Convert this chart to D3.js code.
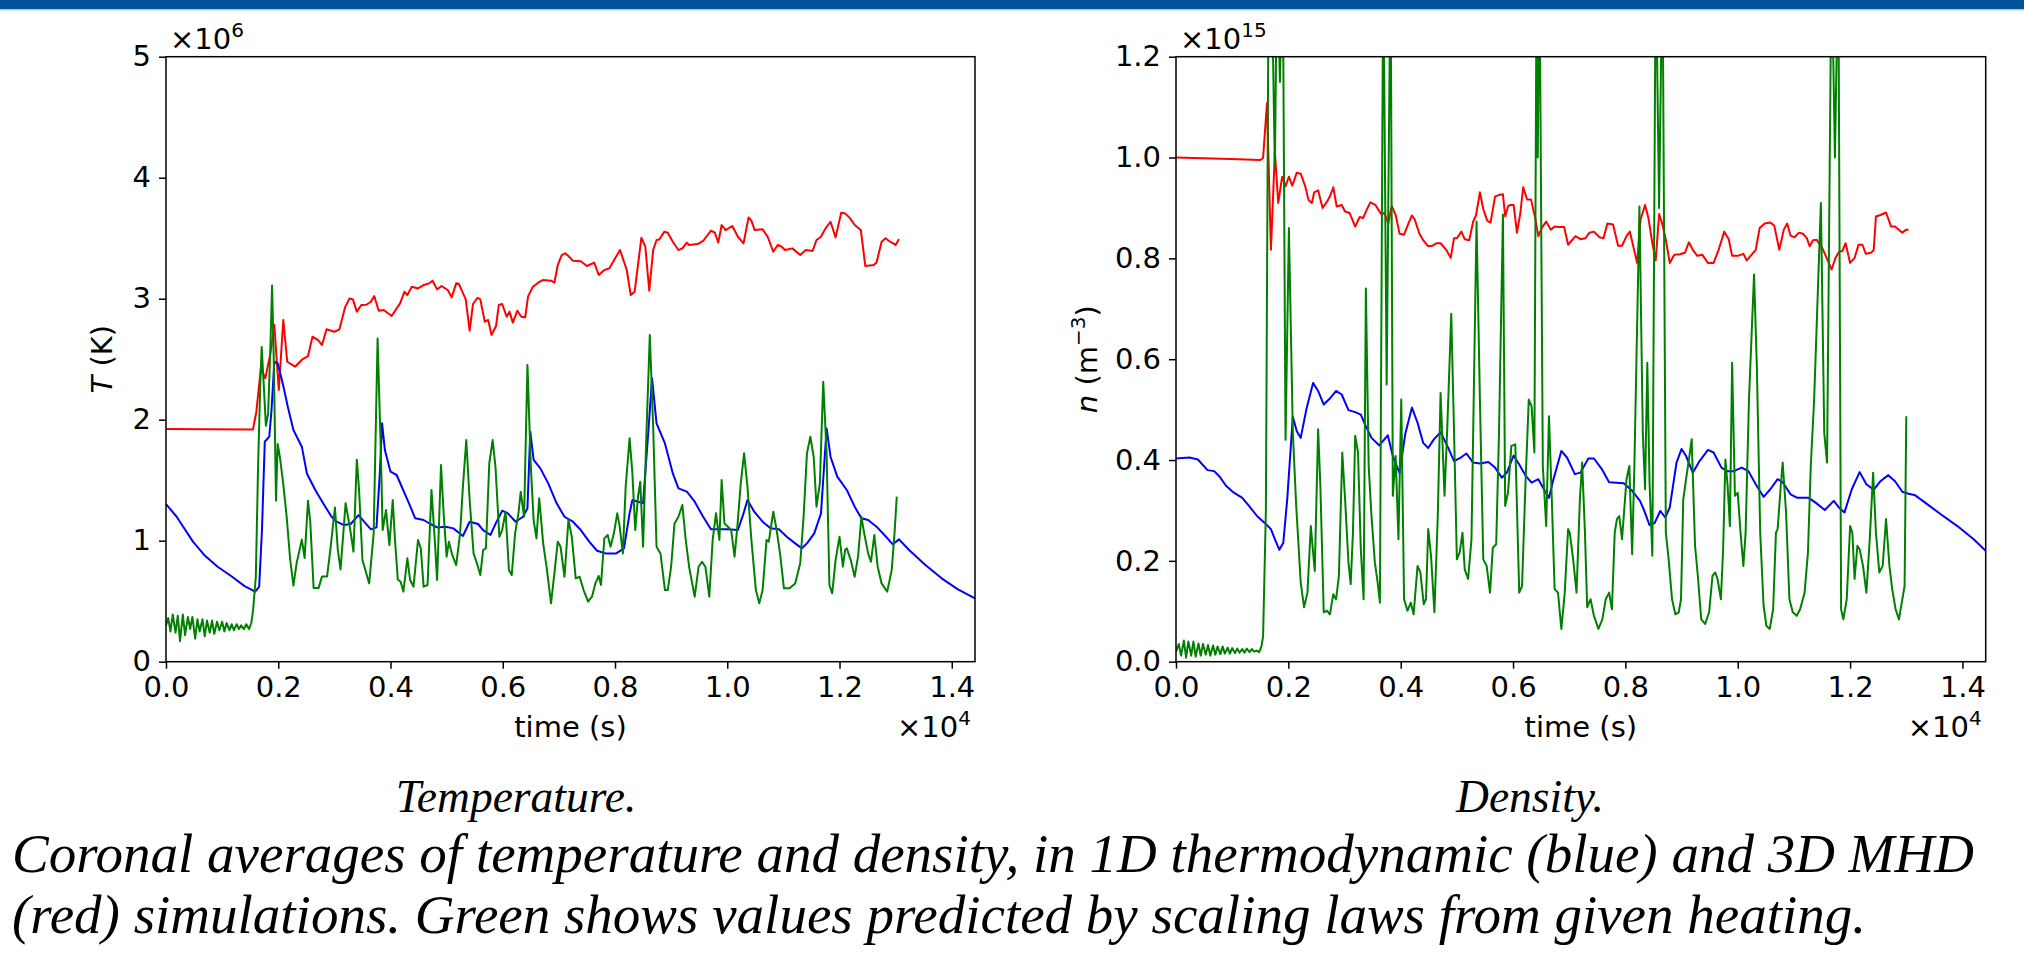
<!DOCTYPE html>
<html>
<head>
<meta charset="utf-8">
<script src="https://cdn.jsdelivr.net/npm/d3@7"></script>
<style>
  body { margin: 0; background: #fff; }
  svg { display: block; }
  .caption { font-family: 'Liberation Serif', 'Times New Roman', serif; font-style: italic; }
</style>
</head>
<body>
<script>
// units: time in 1e4 s, T in 1e6 K, n in 1e15 m^-3 (same as the axis offsets)
const xTicks = [0, 0.2, 0.4, 0.6, 0.8, 1.0, 1.2, 1.4];
const tempTicks = [0, 1, 2, 3, 4, 5];
const densTicks = [0, 0.2, 0.4, 0.6, 0.8, 1.0, 1.2];

// temperature, 1D thermodynamic (blue)
const tempBlue = [[0,1.303],[0.019,1.198],[0.048,0.992],[0.068,0.882],[0.092,0.785],[0.116,0.708],[0.140,0.625],[0.159,0.579],[0.166,0.620],[0.171,1.088],[0.176,1.818],[0.184,1.860],[0.188,2.080],[0.193,2.479],[0.199,2.466],[0.208,2.300],[0.217,2.107],[0.227,1.915],[0.242,1.777],[0.251,1.556],[0.266,1.419],[0.280,1.309],[0.295,1.198],[0.304,1.157],[0.317,1.129],[0.329,1.138],[0.343,1.212],[0.353,1.157],[0.365,1.094],[0.375,1.110],[0.381,1.556],[0.385,1.970],[0.390,1.749],[0.400,1.570],[0.411,1.543],[0.420,1.446],[0.433,1.309],[0.444,1.185],[0.459,1.171],[0.471,1.138],[0.483,1.110],[0.498,1.116],[0.512,1.102],[0.529,1.039],[0.541,1.157],[0.556,1.138],[0.565,1.088],[0.578,1.047],[0.589,1.157],[0.599,1.248],[0.609,1.226],[0.623,1.157],[0.636,1.198],[0.644,1.267],[0.649,1.901],[0.655,1.667],[0.667,1.598],[0.681,1.474],[0.696,1.309],[0.710,1.198],[0.725,1.157],[0.739,1.088],[0.754,0.992],[0.768,0.917],[0.783,0.895],[0.802,0.895],[0.816,0.937],[0.826,1.226],[0.831,1.336],[0.841,1.322],[0.850,1.309],[0.860,1.942],[0.866,2.342],[0.874,1.970],[0.889,1.804],[0.903,1.556],[0.913,1.433],[0.928,1.405],[0.942,1.322],[0.957,1.198],[0.971,1.094],[0.986,1.094],[1.000,1.094],[1.019,1.088],[1.029,1.226],[1.036,1.336],[1.048,1.240],[1.063,1.157],[1.077,1.102],[1.092,1.094],[1.106,1.033],[1.121,0.978],[1.133,0.937],[1.142,0.978],[1.155,1.061],[1.167,1.226],[1.177,1.928],[1.184,1.694],[1.196,1.529],[1.213,1.419],[1.227,1.281],[1.239,1.185],[1.251,1.171],[1.266,1.116],[1.280,1.047],[1.295,0.970],[1.306,1.011],[1.324,0.923],[1.353,0.799],[1.382,0.689],[1.411,0.598],[1.4414,0.523]];

// temperature, 3D MHD (red)
const tempRed = [[0,1.923],[0.155,1.920],[0.161,2.066],[0.169,2.424],[0.177,2.342],[0.186,2.548],[0.193,2.782],[0.201,2.245],[0.209,2.824],[0.216,2.479],[0.230,2.438],[0.243,2.499],[0.253,2.526],[0.261,2.686],[0.271,2.658],[0.278,2.617],[0.286,2.747],[0.300,2.727],[0.309,2.747],[0.319,2.928],[0.327,3.003],[0.333,2.994],[0.340,2.893],[0.348,2.948],[0.357,2.950],[0.365,2.975],[0.371,3.022],[0.379,2.901],[0.388,2.906],[0.402,2.857],[0.417,2.961],[0.425,3.058],[0.430,3.030],[0.438,3.099],[0.449,3.085],[0.459,3.113],[0.469,3.127],[0.475,3.149],[0.483,3.077],[0.491,3.105],[0.502,3.072],[0.509,3.011],[0.517,3.127],[0.522,3.121],[0.534,2.994],[0.541,2.736],[0.547,2.956],[0.555,3.008],[0.560,2.994],[0.568,2.810],[0.574,2.824],[0.580,2.700],[0.588,2.774],[0.593,2.948],[0.599,2.956],[0.607,2.851],[0.612,2.893],[0.618,2.802],[0.626,2.901],[0.633,2.851],[0.640,2.846],[0.645,3.017],[0.653,3.094],[0.663,3.132],[0.671,3.154],[0.686,3.149],[0.692,3.132],[0.698,3.278],[0.705,3.361],[0.711,3.375],[0.717,3.353],[0.725,3.314],[0.739,3.309],[0.750,3.270],[0.763,3.298],[0.771,3.196],[0.781,3.237],[0.790,3.251],[0.800,3.333],[0.809,3.402],[0.821,3.237],[0.828,3.030],[0.835,3.058],[0.847,3.504],[0.854,3.430],[0.861,3.066],[0.868,3.402],[0.874,3.485],[0.879,3.490],[0.888,3.554],[0.894,3.545],[0.903,3.471],[0.913,3.402],[0.920,3.416],[0.928,3.463],[0.932,3.444],[0.947,3.452],[0.957,3.477],[0.971,3.562],[0.978,3.545],[0.984,3.463],[0.990,3.609],[0.997,3.567],[1.009,3.601],[1.019,3.512],[1.029,3.457],[1.038,3.672],[1.043,3.645],[1.049,3.567],[1.063,3.573],[1.072,3.512],[1.082,3.388],[1.090,3.444],[1.097,3.430],[1.103,3.402],[1.116,3.416],[1.130,3.361],[1.140,3.402],[1.152,3.394],[1.159,3.485],[1.167,3.512],[1.175,3.581],[1.184,3.636],[1.193,3.507],[1.203,3.711],[1.210,3.705],[1.219,3.664],[1.227,3.609],[1.238,3.567],[1.246,3.270],[1.261,3.278],[1.266,3.300],[1.275,3.471],[1.282,3.499],[1.290,3.471],[1.300,3.444],[1.306,3.493]];

// temperature, scaling-law prediction (green)
const tempGreen = [[0,0.30],[0.004,0.36],[0.008,0.25],[0.012,0.39],[0.017,0.24],[0.021,0.38],[0.025,0.17],[0.030,0.39],[0.034,0.22],[0.039,0.37],[0.043,0.27],[0.047,0.37],[0.052,0.19],[0.056,0.35],[0.060,0.25],[0.065,0.35],[0.069,0.21],[0.073,0.34],[0.078,0.24],[0.082,0.34],[0.086,0.23],[0.091,0.33],[0.095,0.26],[0.100,0.33],[0.104,0.25],[0.108,0.32],[0.113,0.26],[0.117,0.31],[0.121,0.26],[0.126,0.31],[0.130,0.27],[0.134,0.30],[0.139,0.27],[0.143,0.31],[0.148,0.27],[0.152,0.32],[0.155,0.42],[0.160,0.70],[0.164,1.60],[0.168,2.30],[0.1705,2.60],[0.174,2.30],[0.178,1.95],[0.182,2.05],[0.186,2.60],[0.189,3.11],[0.192,2.50],[0.196,1.33],[0.199,1.80],[0.203,1.69],[0.209,1.465],[0.215,1.198],[0.221,0.857],[0.227,0.629],[0.233,0.82],[0.242,1.009],[0.247,0.857],[0.253,1.33],[0.257,1.16],[0.263,0.61],[0.272,0.61],[0.278,0.705],[0.287,0.705],[0.293,0.933],[0.301,1.274],[0.306,0.93],[0.311,0.762],[0.320,1.31],[0.328,1.10],[0.334,0.91],[0.340,1.67],[0.344,1.42],[0.350,0.84],[0.362,0.647],[0.370,1.06],[0.377,2.672],[0.383,1.694],[0.386,1.088],[0.392,1.253],[0.398,0.964],[0.404,1.336],[0.408,1.006],[0.413,0.680],[0.418,0.661],[0.423,0.579],[0.430,0.854],[0.435,0.675],[0.441,0.620],[0.449,1.006],[0.454,0.937],[0.459,0.620],[0.466,0.634],[0.473,1.419],[0.479,0.998],[0.483,0.675],[0.490,1.625],[0.495,1.198],[0.500,0.868],[0.504,0.992],[0.510,0.882],[0.517,0.799],[0.524,1.061],[0.529,1.446],[0.535,1.832],[0.541,1.336],[0.548,0.895],[0.554,0.813],[0.560,0.716],[0.565,0.923],[0.570,0.937],[0.576,1.639],[0.582,1.832],[0.587,1.612],[0.594,1.033],[0.599,1.088],[0.605,1.240],[0.611,0.758],[0.616,0.716],[0.622,1.061],[0.628,1.226],[0.632,1.405],[0.638,1.198],[0.644,2.452],[0.650,1.612],[0.655,1.171],[0.660,1.019],[0.665,1.350],[0.672,0.978],[0.678,0.785],[0.686,0.482],[0.692,0.730],[0.698,0.992],[0.703,0.950],[0.710,0.702],[0.717,1.171],[0.723,1.033],[0.730,0.689],[0.737,0.702],[0.744,0.592],[0.752,0.496],[0.759,0.537],[0.765,0.647],[0.771,0.708],[0.775,0.634],[0.781,1.019],[0.787,1.047],[0.792,0.950],[0.798,1.061],[0.804,1.226],[0.808,1.129],[0.814,0.895],[0.819,1.446],[0.826,1.846],[0.831,1.556],[0.836,1.088],[0.841,1.364],[0.845,1.488],[0.850,0.950],[0.856,1.887],[0.862,2.700],[0.868,1.942],[0.874,0.950],[0.881,0.895],[0.889,0.592],[0.894,0.592],[0.900,0.785],[0.906,1.143],[0.913,1.198],[0.920,1.295],[0.926,1.006],[0.932,0.785],[0.937,0.661],[0.942,0.537],[0.949,0.785],[0.955,0.826],[0.961,0.785],[0.968,0.537],[0.974,1.006],[0.980,1.226],[0.986,1.006],[0.990,1.501],[0.995,1.143],[1.001,1.116],[1.007,1.088],[1.013,0.868],[1.018,1.116],[1.024,1.474],[1.030,1.722],[1.036,1.446],[1.043,1.006],[1.051,0.592],[1.057,0.482],[1.063,0.592],[1.070,1.006],[1.074,0.992],[1.082,1.240],[1.088,1.088],[1.094,0.895],[1.101,0.606],[1.111,0.606],[1.121,0.647],[1.130,0.813],[1.136,1.198],[1.142,1.722],[1.148,1.860],[1.154,1.694],[1.159,1.281],[1.165,1.474],[1.171,2.314],[1.177,1.722],[1.182,0.634],[1.187,0.565],[1.193,0.840],[1.200,1.033],[1.206,0.785],[1.210,0.923],[1.213,0.937],[1.220,0.840],[1.227,0.702],[1.233,0.868],[1.239,1.198],[1.244,1.061],[1.251,0.895],[1.256,0.826],[1.262,1.047],[1.268,0.785],[1.275,0.647],[1.285,0.579],[1.293,0.758],[1.298,1.061],[1.302,1.364]];

// density, 1D thermodynamic (blue)
const densBlue = [[0,0.403],[0.024,0.405],[0.039,0.401],[0.056,0.380],[0.068,0.378],[0.077,0.368],[0.089,0.349],[0.101,0.337],[0.118,0.325],[0.130,0.309],[0.145,0.288],[0.157,0.276],[0.169,0.263],[0.176,0.243],[0.184,0.222],[0.191,0.236],[0.198,0.322],[0.208,0.486],[0.215,0.457],[0.222,0.444],[0.232,0.500],[0.244,0.553],[0.253,0.537],[0.263,0.510],[0.273,0.521],[0.285,0.537],[0.295,0.530],[0.307,0.499],[0.319,0.495],[0.329,0.490],[0.338,0.467],[0.348,0.444],[0.362,0.429],[0.377,0.449],[0.386,0.408],[0.398,0.374],[0.408,0.451],[0.420,0.504],[0.430,0.474],[0.440,0.434],[0.449,0.424],[0.459,0.441],[0.471,0.455],[0.483,0.428],[0.495,0.398],[0.507,0.405],[0.517,0.413],[0.529,0.395],[0.541,0.393],[0.556,0.396],[0.568,0.385],[0.580,0.365],[0.589,0.375],[0.601,0.409],[0.611,0.391],[0.623,0.368],[0.633,0.355],[0.645,0.362],[0.655,0.342],[0.664,0.325],[0.671,0.358],[0.686,0.418],[0.696,0.405],[0.710,0.372],[0.720,0.375],[0.734,0.403],[0.744,0.403],[0.758,0.382],[0.771,0.356],[0.784,0.355],[0.797,0.354],[0.812,0.339],[0.826,0.319],[0.833,0.301],[0.843,0.271],[0.852,0.275],[0.862,0.299],[0.871,0.286],[0.879,0.306],[0.891,0.395],[0.900,0.422],[0.908,0.408],[0.920,0.375],[0.932,0.398],[0.947,0.420],[0.957,0.415],[0.971,0.385],[0.981,0.378],[0.993,0.378],[1.007,0.385],[1.019,0.378],[1.032,0.352],[1.046,0.327],[1.058,0.342],[1.071,0.362],[1.080,0.356],[1.094,0.332],[1.106,0.325],[1.126,0.325],[1.138,0.316],[1.155,0.301],[1.171,0.319],[1.180,0.306],[1.190,0.296],[1.203,0.342],[1.217,0.376],[1.229,0.352],[1.242,0.341],[1.254,0.358],[1.268,0.370],[1.280,0.358],[1.293,0.337],[1.304,0.333],[1.316,0.330],[1.333,0.316],[1.362,0.292],[1.391,0.269],[1.420,0.243],[1.4414,0.220]];

// density, 3D MHD (red)
const densRed = [[0,1.000],[0.097,0.997],[0.150,0.995],[0.155,0.999],[0.162,1.108],[0.169,0.817],[0.176,1.012],[0.182,0.910],[0.189,0.962],[0.195,0.943],[0.201,0.962],[0.207,0.944],[0.215,0.970],[0.222,0.968],[0.230,0.943],[0.236,0.916],[0.242,0.910],[0.246,0.931],[0.253,0.935],[0.261,0.900],[0.269,0.913],[0.274,0.923],[0.280,0.941],[0.286,0.903],[0.295,0.906],[0.301,0.893],[0.309,0.890],[0.319,0.863],[0.327,0.882],[0.333,0.880],[0.341,0.900],[0.346,0.911],[0.355,0.906],[0.365,0.888],[0.371,0.890],[0.378,0.869],[0.384,0.904],[0.391,0.886],[0.398,0.849],[0.406,0.847],[0.414,0.870],[0.420,0.885],[0.425,0.877],[0.433,0.850],[0.440,0.836],[0.449,0.824],[0.456,0.825],[0.464,0.830],[0.471,0.830],[0.481,0.817],[0.489,0.801],[0.495,0.840],[0.500,0.840],[0.508,0.853],[0.514,0.838],[0.522,0.836],[0.529,0.873],[0.534,0.885],[0.541,0.931],[0.547,0.898],[0.554,0.875],[0.560,0.871],[0.568,0.923],[0.576,0.926],[0.582,0.927],[0.586,0.883],[0.591,0.903],[0.595,0.906],[0.601,0.906],[0.607,0.851],[0.613,0.890],[0.618,0.941],[0.625,0.917],[0.632,0.917],[0.640,0.877],[0.645,0.844],[0.651,0.860],[0.659,0.873],[0.667,0.857],[0.674,0.863],[0.681,0.862],[0.691,0.862],[0.698,0.827],[0.711,0.844],[0.720,0.838],[0.729,0.840],[0.736,0.851],[0.744,0.853],[0.754,0.842],[0.761,0.840],[0.768,0.869],[0.778,0.867],[0.787,0.825],[0.794,0.825],[0.802,0.844],[0.808,0.853],[0.814,0.824],[0.821,0.791],[0.827,0.877],[0.835,0.906],[0.841,0.880],[0.848,0.830],[0.854,0.796],[0.860,0.888],[0.866,0.867],[0.872,0.837],[0.879,0.791],[0.887,0.807],[0.897,0.808],[0.906,0.811],[0.913,0.832],[0.920,0.817],[0.928,0.805],[0.937,0.807],[0.947,0.791],[0.957,0.791],[0.966,0.817],[0.976,0.853],[0.984,0.838],[0.990,0.805],[1.000,0.805],[1.010,0.809],[1.016,0.796],[1.026,0.809],[1.032,0.817],[1.039,0.860],[1.048,0.869],[1.058,0.871],[1.065,0.865],[1.074,0.817],[1.082,0.857],[1.088,0.869],[1.094,0.845],[1.101,0.842],[1.109,0.851],[1.116,0.849],[1.123,0.840],[1.128,0.824],[1.134,0.836],[1.140,0.837],[1.150,0.822],[1.157,0.804],[1.167,0.778],[1.174,0.801],[1.181,0.814],[1.186,0.814],[1.192,0.830],[1.200,0.791],[1.208,0.801],[1.215,0.827],[1.222,0.827],[1.228,0.809],[1.237,0.811],[1.242,0.816],[1.246,0.883],[1.254,0.886],[1.264,0.891],[1.273,0.863],[1.280,0.863],[1.293,0.851],[1.300,0.857],[1.304,0.857]];

// density, scaling-law prediction (green); several peaks run past the top of the axes
const densGreen = [[0,0.020],[0.005,0.035],[0.009,0.012],[0.014,0.042],[0.018,0.008],[0.022,0.040],[0.027,0.012],[0.031,0.040],[0.035,0.010],[0.040,0.036],[0.044,0.012],[0.048,0.035],[0.053,0.014],[0.057,0.033],[0.061,0.012],[0.066,0.032],[0.070,0.014],[0.074,0.030],[0.079,0.015],[0.083,0.030],[0.087,0.016],[0.092,0.028],[0.096,0.016],[0.100,0.027],[0.105,0.017],[0.109,0.026],[0.113,0.018],[0.118,0.025],[0.122,0.018],[0.126,0.026],[0.131,0.019],[0.135,0.025],[0.139,0.020],[0.144,0.022],[0.148,0.019],[0.152,0.030],[0.155,0.050],[0.160,0.300],[0.165,1.400],[0.172,1.250],[0.176,0.980],[0.180,1.400],[0.185,1.150],[0.190,1.400],[0.195,0.440],[0.201,0.860],[0.208,0.454],[0.214,0.309],[0.222,0.157],[0.228,0.108],[0.234,0.137],[0.240,0.269],[0.243,0.230],[0.247,0.180],[0.253,0.461],[0.257,0.349],[0.263,0.098],[0.269,0.101],[0.274,0.094],[0.280,0.134],[0.285,0.124],[0.290,0.170],[0.296,0.415],[0.301,0.322],[0.307,0.197],[0.311,0.154],[0.315,0.256],[0.319,0.448],[0.324,0.415],[0.329,0.223],[0.334,0.124],[0.338,0.740],[0.343,0.388],[0.348,0.289],[0.354,0.197],[0.359,0.157],[0.363,0.117],[0.369,1.400],[0.375,0.550],[0.382,1.400],[0.386,0.329],[0.391,0.408],[0.396,0.243],[0.401,0.520],[0.406,0.124],[0.412,0.101],[0.418,0.117],[0.423,0.094],[0.430,0.190],[0.435,0.177],[0.441,0.114],[0.445,0.124],[0.449,0.263],[0.454,0.210],[0.460,0.098],[0.466,0.289],[0.471,0.533],[0.478,0.329],[0.483,0.467],[0.490,0.690],[0.495,0.454],[0.500,0.203],[0.505,0.217],[0.510,0.256],[0.514,0.183],[0.520,0.164],[0.526,0.243],[0.535,0.873],[0.541,0.520],[0.547,0.203],[0.553,0.190],[0.559,0.137],[0.564,0.226],[0.570,0.233],[0.575,0.454],[0.582,0.887],[0.586,0.309],[0.591,0.335],[0.597,0.428],[0.604,0.431],[0.611,0.137],[0.616,0.150],[0.622,0.349],[0.628,0.520],[0.633,0.507],[0.638,0.415],[0.642,1.400],[0.644,1.000],[0.647,1.400],[0.653,0.388],[0.659,0.269],[0.664,0.487],[0.669,0.322],[0.674,0.144],[0.680,0.137],[0.686,0.065],[0.692,0.137],[0.698,0.263],[0.701,0.256],[0.707,0.203],[0.713,0.137],[0.719,0.322],[0.723,0.395],[0.728,0.256],[0.732,0.108],[0.738,0.124],[0.744,0.091],[0.752,0.065],[0.759,0.084],[0.765,0.124],[0.771,0.137],[0.776,0.104],[0.781,0.256],[0.785,0.283],[0.789,0.289],[0.794,0.243],[0.802,0.362],[0.807,0.388],[0.812,0.213],[0.816,0.388],[0.825,0.903],[0.831,0.454],[0.835,0.342],[0.839,0.593],[0.843,0.355],[0.848,0.210],[0.854,1.400],[0.860,0.900],[0.866,1.400],[0.872,0.256],[0.877,0.203],[0.883,0.124],[0.889,0.094],[0.895,0.098],[0.899,0.124],[0.903,0.322],[0.908,0.362],[0.914,0.408],[0.918,0.441],[0.924,0.230],[0.929,0.170],[0.935,0.084],[0.942,0.075],[0.949,0.098],[0.955,0.170],[0.960,0.177],[0.964,0.164],[0.970,0.124],[0.974,0.223],[0.978,0.401],[0.982,0.349],[0.986,0.269],[0.990,0.593],[0.995,0.329],[1.000,0.335],[1.005,0.256],[1.010,0.190],[1.014,0.256],[1.020,0.520],[1.029,0.768],[1.034,0.586],[1.040,0.256],[1.046,0.111],[1.051,0.071],[1.057,0.065],[1.063,0.104],[1.068,0.256],[1.071,0.263],[1.077,0.355],[1.080,0.395],[1.086,0.296],[1.092,0.124],[1.098,0.098],[1.105,0.091],[1.111,0.104],[1.119,0.137],[1.125,0.217],[1.130,0.388],[1.136,0.520],[1.148,0.910],[1.154,0.454],[1.159,0.395],[1.167,1.400],[1.173,1.000],[1.179,1.400],[1.184,0.104],[1.188,0.084],[1.194,0.124],[1.200,0.269],[1.204,0.256],[1.208,0.164],[1.213,0.230],[1.217,0.223],[1.223,0.190],[1.229,0.137],[1.235,0.243],[1.241,0.375],[1.246,0.256],[1.252,0.177],[1.258,0.190],[1.264,0.283],[1.270,0.190],[1.275,0.144],[1.281,0.104],[1.287,0.084],[1.293,0.124],[1.297,0.150],[1.300,0.487]];

const width = 2024, height = 958;
const svg = d3.select("body").append("svg")
  .attr("width", width)
  .attr("height", height)
  .style("font-family", "'DejaVu Sans', sans-serif");

// top banner
svg.append("rect").attr("x", 0).attr("y", 0).attr("width", width).attr("height", 9).attr("fill", "#00529b");
svg.append("rect").attr("x", 0).attr("y", 9).attr("width", width).attr("height", 1.5).attr("fill", "#a6c8ea");

const tickFont = 29;

function drawPanel(p) {
  const x = d3.scaleLinear().domain([0, 1.4414]).range([p.left, p.right]);
  const y = d3.scaleLinear().domain(p.yDomain).range([p.bottom, p.top]);
  const g = svg.append("g");

  g.append("clipPath").attr("id", p.id + "-clip")
    .append("rect")
    .attr("x", p.left).attr("y", p.top)
    .attr("width", p.right - p.left).attr("height", p.bottom - p.top);

  const line = d3.line().x(d => x(d[0])).y(d => y(d[1]));
  const lines = g.append("g").attr("clip-path", `url(#${p.id}-clip)`);
  p.series.forEach(s => {
    lines.append("path")
      .datum(s.data)
      .attr("d", line)
      .attr("fill", "none")
      .attr("stroke", s.color)
      .attr("stroke-width", 2)
      .attr("stroke-linejoin", "round");
  });

  // axes
  const xAxis = g.append("g")
    .attr("transform", `translate(0,${p.bottom})`)
    .call(d3.axisBottom(x).tickValues(xTicks).tickFormat(d3.format(".1f")).tickSize(7).tickPadding(8).tickSizeOuter(0));
  const yAxis = g.append("g")
    .attr("transform", `translate(${p.left},0)`)
    .call(d3.axisLeft(y).tickValues(p.yTicks).tickFormat(p.yFmt).tickSize(7).tickPadding(8).tickSizeOuter(0));
  [xAxis, yAxis].forEach(a => {
    a.select(".domain").remove();
    a.selectAll(".tick line").attr("stroke", "#000").attr("stroke-width", 1.5);
    a.selectAll(".tick text").attr("fill", "#000")
      .attr("font-size", tickFont).attr("font-family", "'DejaVu Sans', sans-serif");
  });

  g.append("rect")
    .attr("x", p.left).attr("y", p.top)
    .attr("width", p.right - p.left).attr("height", p.bottom - p.top)
    .attr("fill", "none").attr("stroke", "#000").attr("stroke-width", 1.5);

  // x label and offset
  g.append("text")
    .attr("x", (p.left + p.right) / 2).attr("y", 737)
    .attr("text-anchor", "middle").attr("font-size", tickFont)
    .text("time (s)");
  const xo = g.append("text")
    .attr("x", p.right - 4).attr("y", 737)
    .attr("text-anchor", "end").attr("font-size", tickFont);
  xo.append("tspan").text("×10");
  xo.append("tspan").attr("dy", -12).attr("font-size", 20).text("4");

  // y offset
  const yo = g.append("text")
    .attr("x", p.left + 4).attr("y", 49)
    .attr("font-size", tickFont);
  yo.append("tspan").text("×10");
  yo.append("tspan").attr("dy", -12).attr("font-size", 20).text(p.yExp);

  // y label
  const yl = g.append("text")
    .attr("transform", `translate(${p.labelX},${(p.top + p.bottom) / 2}) rotate(-90)`)
    .attr("text-anchor", "middle").attr("font-size", tickFont);
  p.yLabel(yl);
}

const plotTop = 56.7, plotBottom = 661.7;

drawPanel({
  id: "temp", left: 166, right: 975, top: plotTop, bottom: plotBottom,
  yDomain: [0, 5], yTicks: tempTicks, yFmt: d3.format("d"), yExp: "6",
  labelX: 112,
  yLabel: t => {
    t.append("tspan").attr("font-style", "italic").text("T");
    t.append("tspan").text(" (K)");
  },
  series: [
    { data: tempRed, color: "#ff0000" },
    { data: tempBlue, color: "#0000ff" },
    { data: tempGreen, color: "#008000" }
  ]
});

drawPanel({
  id: "dens", left: 1176, right: 1985.7, top: plotTop, bottom: plotBottom,
  yDomain: [0, 1.2], yTicks: densTicks, yFmt: d3.format(".1f"), yExp: "15",
  labelX: 1097,
  yLabel: t => {
    t.append("tspan").attr("font-style", "italic").text("n");
    t.append("tspan").text(" (m");
    t.append("tspan").attr("dy", -12).attr("font-size", 20).text("−3");
    t.append("tspan").attr("dy", 12).text(")");
  },
  series: [
    { data: densRed, color: "#ff0000" },
    { data: densBlue, color: "#0000ff" },
    { data: densGreen, color: "#008000" }
  ]
});

// captions
const cap = svg.append("g").attr("fill", "#000");
cap.append("text").attr("class", "caption").attr("x", 516).attr("y", 812)
  .attr("text-anchor", "middle").style("font-size", "45.5px").text("Temperature.");
cap.append("text").attr("class", "caption").attr("x", 1530).attr("y", 812)
  .attr("text-anchor", "middle").style("font-size", "45.5px").text("Density.");
cap.append("text").attr("class", "caption").attr("x", 12).attr("y", 872).style("font-size", "55px")
  .text("Coronal averages of temperature and density, in 1D thermodynamic (blue) and 3D MHD");
cap.append("text").attr("class", "caption").attr("x", 12).attr("y", 933).style("font-size", "55px")
  .text("(red) simulations. Green shows values predicted by scaling laws from given heating.");
</script>
</body>
</html>
